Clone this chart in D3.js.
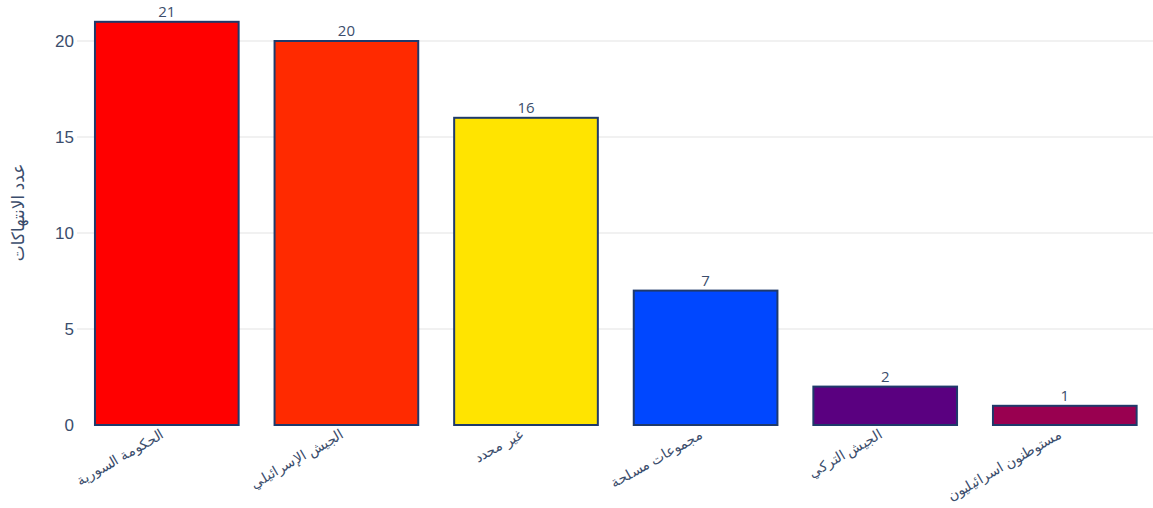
<!DOCTYPE html>
<html>
<head>
<meta charset="utf-8">
<script src="https://cdn.jsdelivr.net/npm/d3@7"></script>
<style>
  body { margin: 0; background: #fff; }
  svg { font-family: "Open Sans", "DejaVu Sans", Arial, sans-serif; }
</style>
</head>
<body>
<div id="chart"></div>
<script>
// chart values
const categories = ["الحكومة السورية", "الجيش الإسرائيلي", "غير محدد", "مجموعات مسلحة", "الجيش التركي", "مستوطنون اسرائيليون"];
const counts = [21, 20, 16, 7, 2, 1];
const barColors = ["#ff0000", "#ff2a00", "#ffe400", "#0047ff", "#5a0080", "#990050"];
const yTicks = [0, 5, 10, 15, 20];
const yTitle = "عدد الانتهاكات";

const W = 1153, H = 508;
const plot = { left: 77, right: 1154.6, top: 0, bottom: 425 };
const textColor = "#3b4d6c";

const svg = d3.select("#chart").append("svg")
    .attr("width", W)
    .attr("height", H);

const x = d3.scaleBand()
    .domain(categories)
    .range([plot.left, plot.right])
    .paddingInner(0.2)
    .paddingOuter(0.1);

const y = d3.scaleLinear()
    .domain([0, 20])
    .range([plot.bottom, plot.bottom - 384]);

// gridlines
svg.append("g")
    .selectAll("line")
    .data(yTicks.filter(d => d > 0))
    .enter().append("line")
    .attr("x1", plot.left)
    .attr("x2", W)
    .attr("y1", d => y(d))
    .attr("y2", d => y(d))
    .attr("stroke", "#e3e3e3")
    .attr("stroke-width", 1);

// y axis labels
const yAxis = svg.append("g")
    .attr("transform", `translate(${plot.left},0)`)
    .call(d3.axisLeft(y).tickValues(yTicks).tickSize(0).tickPadding(3));
yAxis.select(".domain").remove();
yAxis.selectAll("text")
    .attr("fill", textColor)
    .style("font-size", "17px");

// y title
svg.append("text")
    .attr("transform", `translate(18,${(plot.top + plot.bottom) / 2}) rotate(-90)`)
    .attr("text-anchor", "middle")
    .attr("dy", "0.35em")
    .attr("fill", textColor)
    .style("font-size", "17px")
    .text(yTitle);

// bars
svg.append("g")
    .selectAll("rect")
    .data(counts)
    .enter().append("rect")
    .attr("x", (d, i) => x(categories[i]))
    .attr("y", d => y(d))
    .attr("width", x.bandwidth())
    .attr("height", d => y(0) - y(d))
    .attr("fill", (d, i) => barColors[i])
    .attr("stroke", "#1f3a6b")
    .attr("stroke-width", 2);

// value labels
svg.append("g")
    .selectAll("text")
    .data(counts)
    .enter().append("text")
    .attr("x", (d, i) => x(categories[i]) + x.bandwidth() / 2)
    .attr("y", d => y(d) - 5)
    .attr("text-anchor", "middle")
    .attr("fill", textColor)
    .style("font-size", "15px")
    .text(d => d);

// x axis labels
const xAxis = svg.append("g")
    .attr("transform", `translate(0,${plot.bottom})`)
    .call(d3.axisBottom(x).tickSize(0).tickPadding(0));
xAxis.select(".domain").remove();
xAxis.selectAll("text")
    .attr("fill", textColor)
    .style("font-size", "14px")
    .attr("text-anchor", "end")
    .attr("dy", null)
    .attr("y", 0)
    .attr("transform", "translate(-2,12) rotate(-30)");
</script>
</body>
</html>
